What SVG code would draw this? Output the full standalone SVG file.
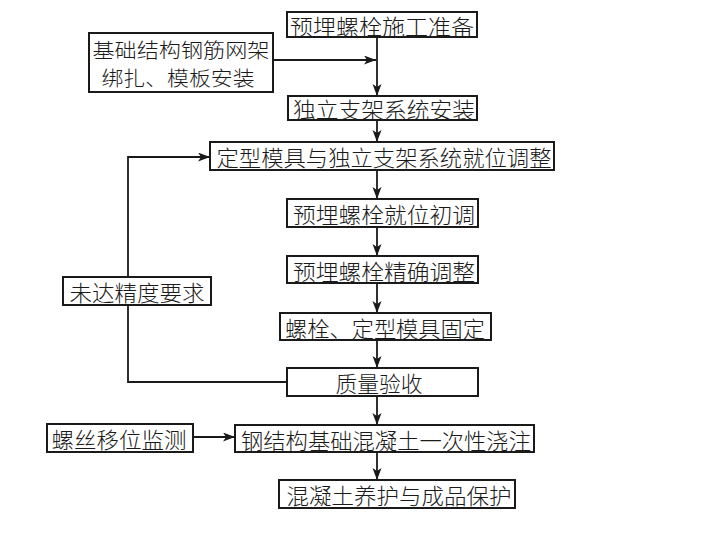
<svg xmlns="http://www.w3.org/2000/svg" width="720" height="536" viewBox="0 0 720 536">
<defs>
<marker id="arr" markerUnits="userSpaceOnUse" markerWidth="13" markerHeight="10" refX="12" refY="4.5" orient="auto">
<path d="M0,0 L12,4.5 L0,9 L3,4.5 z" fill="#1a1a1a"/>
</marker>
<style>
.box{fill:#fff;stroke:#1a1a1a;stroke-width:2}
.t{font-family:"Noto Sans CJK SC","Noto Sans CJK JP",sans-serif;font-size:22px;fill:#1a1a1a;text-anchor:middle;dominant-baseline:central;font-weight:300}
.t2{font-size:20.5px}
.c{fill:none;stroke:#1a1a1a;stroke-width:1.8}
.a{marker-end:url(#arr)}
</style>
</defs>
<rect width="720" height="536" fill="#fff"/>
<g id="connectors">
<line class="c a" x1="377" y1="37" x2="377" y2="96"/>
<line class="c a" x1="273" y1="60" x2="376" y2="60"/>
<line class="c a" x1="377" y1="120" x2="377" y2="142"/>
<line class="c a" x1="377" y1="170" x2="377" y2="199"/>
<line class="c a" x1="377" y1="227" x2="377" y2="256"/>
<line class="c a" x1="377" y1="283" x2="377" y2="313"/>
<line class="c a" x1="377" y1="340" x2="377" y2="368"/>
<line class="c a" x1="377" y1="396" x2="377" y2="425"/>
<line class="c a" x1="377" y1="452" x2="377" y2="480"/>
<polyline class="c" points="287,382 128,382 128,305"/>
<polyline class="c a" points="128,277 128,157 210,157"/>
<line class="c a" x1="193" y1="437" x2="235" y2="437"/>
</g>
<g id="n1"><rect class="box" x="287" y="12" width="190" height="25"/><text class="t" x="382" y="24.5" textLength="184" lengthAdjust="spacingAndGlyphs">预埋螺栓施工准备</text></g>
<g id="n2"><rect class="box" x="89" y="33" width="184" height="59"/><text class="t t2" x="181" y="49" textLength="177" lengthAdjust="spacingAndGlyphs">基础结构钢筋网架</text><text class="t t2" x="178" y="77" textLength="153" lengthAdjust="spacingAndGlyphs">绑扎、模板安装</text></g>
<g id="n3"><rect class="box" x="288" y="96" width="189" height="24"/><text class="t" x="384" y="108" textLength="182" lengthAdjust="spacingAndGlyphs">独立支架系统安装</text></g>
<g id="n4"><rect class="box" x="210" y="142" width="344" height="28"/><text class="t" x="384" y="156" textLength="335" lengthAdjust="spacingAndGlyphs">定型模具与独立支架系统就位调整</text></g>
<g id="n5"><rect class="box" x="287" y="199" width="191" height="28"/><text class="t" x="384" y="213" textLength="182" lengthAdjust="spacingAndGlyphs">预埋螺栓就位初调</text></g>
<g id="n6"><rect class="box" x="287" y="256" width="191" height="27"/><text class="t" x="384" y="269.5" textLength="182" lengthAdjust="spacingAndGlyphs">预埋螺栓精确调整</text></g>
<g id="n7"><rect class="box" x="280" y="313" width="211" height="27"/><text class="t" x="385" y="326.5" textLength="200" lengthAdjust="spacingAndGlyphs">螺栓、定型模具固定</text></g>
<g id="n8"><rect class="box" x="287" y="368" width="191" height="28"/><text class="t" x="379" y="382" textLength="87" lengthAdjust="spacingAndGlyphs">质量验收</text></g>
<g id="n9"><rect class="box" x="63" y="277" width="148" height="28"/><text class="t" x="137" y="291" textLength="135" lengthAdjust="spacingAndGlyphs">未达精度要求</text></g>
<g id="n10"><rect class="box" x="47" y="424" width="146" height="28"/><text class="t" x="119" y="438" textLength="135" lengthAdjust="spacingAndGlyphs">螺丝移位监测</text></g>
<g id="n11"><rect class="box" x="235" y="425" width="299" height="27"/><text class="t" x="386" y="438.5" textLength="290" lengthAdjust="spacingAndGlyphs">钢结构基础混凝土一次性浇注</text></g>
<g id="n12"><rect class="box" x="279" y="480" width="236" height="28"/><text class="t" x="399" y="494" textLength="225" lengthAdjust="spacingAndGlyphs">混凝土养护与成品保护</text></g>
</svg>
